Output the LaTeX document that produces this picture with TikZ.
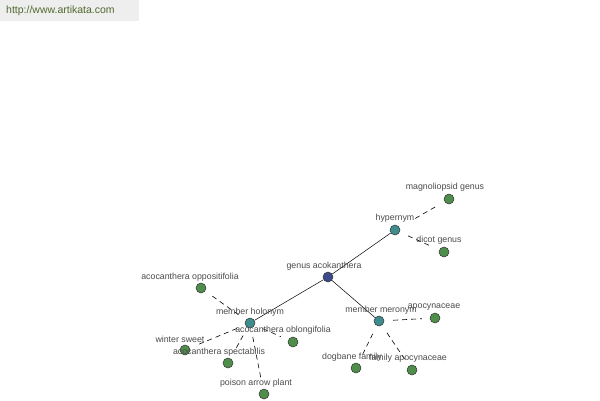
\documentclass[tikz,border=0pt]{standalone}
\usepackage{fontspec}
\setmainfont{Liberation Sans}
\begin{document}
\begin{tikzpicture}[x=1pt,y=-1pt,
  dot/.style={circle,draw=black!80,line width=0.5pt,minimum size=10pt,inner sep=0pt},
  leaf/.style={dot,fill=leafc},
  rel/.style={dot,fill=relc},
  root/.style={dot,fill=rootc},
  lbl/.style={font=\fontsize{8.8}{9}\selectfont,text=black!70,inner sep=0pt},
  solidedge/.style={draw=black,line width=0.5pt},
  dashedge/.style={draw=black,line width=0.6pt,dash pattern=on 5pt off 4pt,shorten <=9pt,shorten >=8pt}]
\definecolor{leafc}{HTML}{4E8E4A}
\definecolor{relc}{HTML}{3E8C8C}
\definecolor{rootc}{HTML}{3C4A8C}
\definecolor{wm}{HTML}{EEEEEE}
\definecolor{wmtext}{HTML}{4F6A2E}
\useasboundingbox (0,0) rectangle (600,400);
\fill[white] (0,0) rectangle (600,400);
\fill[wm] (0,0) rectangle (139,21);
\node[anchor=west,font=\fontsize{10.5}{11}\selectfont,text=wmtext,inner sep=0pt] (wmk) at (6,11) {http://www.artikata.com};
% nodes
\node[root] (ga) at (328,277) {};
\node[rel] (hyp) at (395,230) {};
\node[rel] (mer) at (379,321) {};
\node[rel] (hol) at (250,323) {};
\node[leaf] (mag) at (449,199) {};
\node[leaf] (dic) at (444,252) {};
\node[leaf] (apo) at (435,318) {};
\node[leaf] (dog) at (356,368) {};
\node[leaf] (fam) at (412,370) {};
\node[leaf] (opp) at (201,288) {};
\node[leaf] (obl) at (293,342) {};
\node[leaf] (win) at (185,350) {};
\node[leaf] (spe) at (228,363) {};
\node[leaf] (poi) at (264,394) {};
% edges
\draw[solidedge] (ga) -- (hyp);
\draw[solidedge] (ga) -- (mer);
\draw[solidedge] (ga) -- (hol);
\draw[dashedge,shorten <=18pt] (hyp) -- (mag);
\draw[dashedge] (hyp) -- (dic);
\draw[dashedge] (mer) -- (apo);
\draw[dashedge] (mer) -- (dog);
\draw[dashedge] (mer) -- (fam);
\draw[dashedge] (hol) -- (opp);
\draw[dashedge] (hol) -- (obl);
\draw[dashedge] (hol) -- (win);
\draw[dashedge] (hol) -- (spe);
\draw[dashedge] (hol) -- (poi);
% labels
\node[lbl] (lga) at (324,266) {genus acokanthera};
\node[lbl] (lhyp) at (395,218) {hypernym};
\node[lbl] (lmag) at (445,187) {magnoliopsid genus};
\node[lbl] (ldic) at (439,240) {dicot genus};
\node[lbl] (lmer) at (381,310) {member meronym};
\node[lbl] (lapo) at (434,307) {apocynaceae};
\node[lbl] (ldog) at (352,357) {dogbane family};
\node[lbl] (lfam) at (408,358) {family apocynaceae};
\node[lbl] (lhol) at (250,312) {member holonym};
\node[lbl] (lopp) at (190,277) {acocanthera oppositifolia};
\node[lbl] (lobl) at (283,330) {acocanthera oblongifolia};
\node[lbl] (lwin) at (180,339) {winter sweet};
\node[lbl] (lspe) at (219,352) {acocanthera spectabilis};
\node[lbl] (lpoi) at (256,383) {poison arrow plant};
\end{tikzpicture}
\end{document}
